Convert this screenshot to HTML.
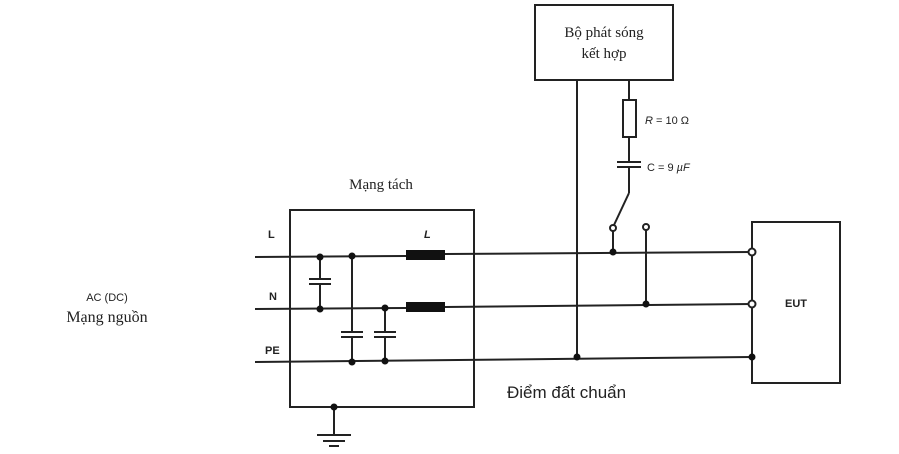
<!DOCTYPE html>
<html><head><meta charset="utf-8"><style>
html,body{margin:0;padding:0;background:#fff;}
svg{display:block;}
.s{font-family:"Liberation Serif","Noto Serif CJK SC",serif;fill:#222;}
.a{font-family:"Liberation Sans","Noto Sans CJK SC",sans-serif;fill:#222;}
</style></head><body>
<svg width="899" height="454" viewBox="0 0 899 454" xmlns="http://www.w3.org/2000/svg">
<g stroke="#222" stroke-width="2" fill="none">
<!-- generator box -->
<rect x="535" y="5" width="138" height="75"/>
<line x1="577" y1="80" x2="577" y2="357"/>
<line x1="629" y1="80" x2="629" y2="100"/>
<rect x="623" y="100" width="13" height="37"/>
<line x1="629" y1="137" x2="629" y2="162"/>
<line x1="617" y1="162" x2="641" y2="162"/>
<line x1="617" y1="167" x2="641" y2="167"/>
<line x1="629" y1="167" x2="629" y2="193"/>
<line x1="629" y1="193" x2="614" y2="225"/>
<circle cx="613" cy="228" r="3" fill="#fff"/>
<circle cx="646" cy="227" r="3" fill="#fff"/>
<line x1="613" y1="231" x2="613" y2="252"/>
<line x1="646" y1="230" x2="646" y2="304"/>
<!-- main lines -->
<line x1="255" y1="257" x2="406" y2="256"/>
<line x1="445" y1="254" x2="752" y2="252"/>
<line x1="255" y1="309" x2="406" y2="308"/>
<line x1="445" y1="307" x2="752" y2="304"/>
<line x1="255" y1="362" x2="752" y2="357"/>
<!-- decoupling network box -->
<rect x="290" y="210" width="184" height="197"/>
<line x1="320" y1="257" x2="320" y2="279"/>
<line x1="309" y1="279" x2="331" y2="279"/>
<line x1="309" y1="284" x2="331" y2="284"/>
<line x1="320" y1="284" x2="320" y2="309"/>
<line x1="352" y1="256" x2="352" y2="332"/>
<line x1="341" y1="332" x2="363" y2="332"/>
<line x1="341" y1="337" x2="363" y2="337"/>
<line x1="352" y1="337" x2="352" y2="362"/>
<line x1="385" y1="308" x2="385" y2="332"/>
<line x1="374" y1="332" x2="396" y2="332"/>
<line x1="374" y1="337" x2="396" y2="337"/>
<line x1="385" y1="337" x2="385" y2="361"/>
<!-- ground -->
<line x1="334" y1="407" x2="334" y2="435"/>
<line x1="317" y1="435" x2="351" y2="435"/>
<line x1="323" y1="441" x2="345" y2="441"/>
<line x1="329" y1="446" x2="339" y2="446"/>
<!-- EUT -->
<rect x="752" y="222" width="88" height="161"/>
<circle cx="752" cy="252" r="3.5" fill="#fff"/>
<circle cx="752" cy="304" r="3.5" fill="#fff"/>
</g>
<g fill="#111">
<rect x="406" y="250" width="39" height="10"/>
<rect x="406" y="302" width="39" height="10"/>
<circle cx="320" cy="257" r="3.5"/><circle cx="352" cy="256" r="3.5"/>
<circle cx="320" cy="309" r="3.5"/><circle cx="385" cy="308" r="3.5"/>
<circle cx="352" cy="362" r="3.5"/><circle cx="385" cy="361" r="3.5"/>
<circle cx="334" cy="407" r="3.5"/>
<circle cx="613" cy="252" r="3.5"/><circle cx="646" cy="304" r="3.5"/>
<circle cx="577" cy="357" r="3.5"/><circle cx="752" cy="357" r="3.5"/>
</g>
<text class="s" x="604" y="37" font-size="15" text-anchor="middle">Bộ phát sóng</text>
<text class="s" x="604" y="58" font-size="15" text-anchor="middle">kết hợp</text>
<text class="a" x="645" y="124" font-size="11"><tspan font-style="italic">R</tspan> = 10 Ω</text>
<text class="a" x="647" y="171" font-size="11">C = 9 <tspan font-style="italic">µF</tspan></text>
<text class="s" x="381" y="189" font-size="15" text-anchor="middle">Mạng tách</text>
<text class="a" x="268" y="238" font-size="11" font-weight="bold">L</text>
<text class="a" x="424" y="238" font-size="11" font-weight="bold" font-style="italic">L</text>
<text class="a" x="269" y="300" font-size="11" font-weight="bold">N</text>
<text class="a" x="265" y="354" font-size="11" font-weight="bold">PE</text>
<text class="a" x="107" y="301" font-size="11" text-anchor="middle">AC (DC)</text>
<text class="s" x="107" y="322" font-size="16" text-anchor="middle">Mạng nguồn</text>
<text class="a" x="785" y="307" font-size="11" font-weight="bold">EUT</text>
<text class="a" x="507" y="398" font-size="17">Điểm đất chuẩn</text>
</svg>
</body></html>
